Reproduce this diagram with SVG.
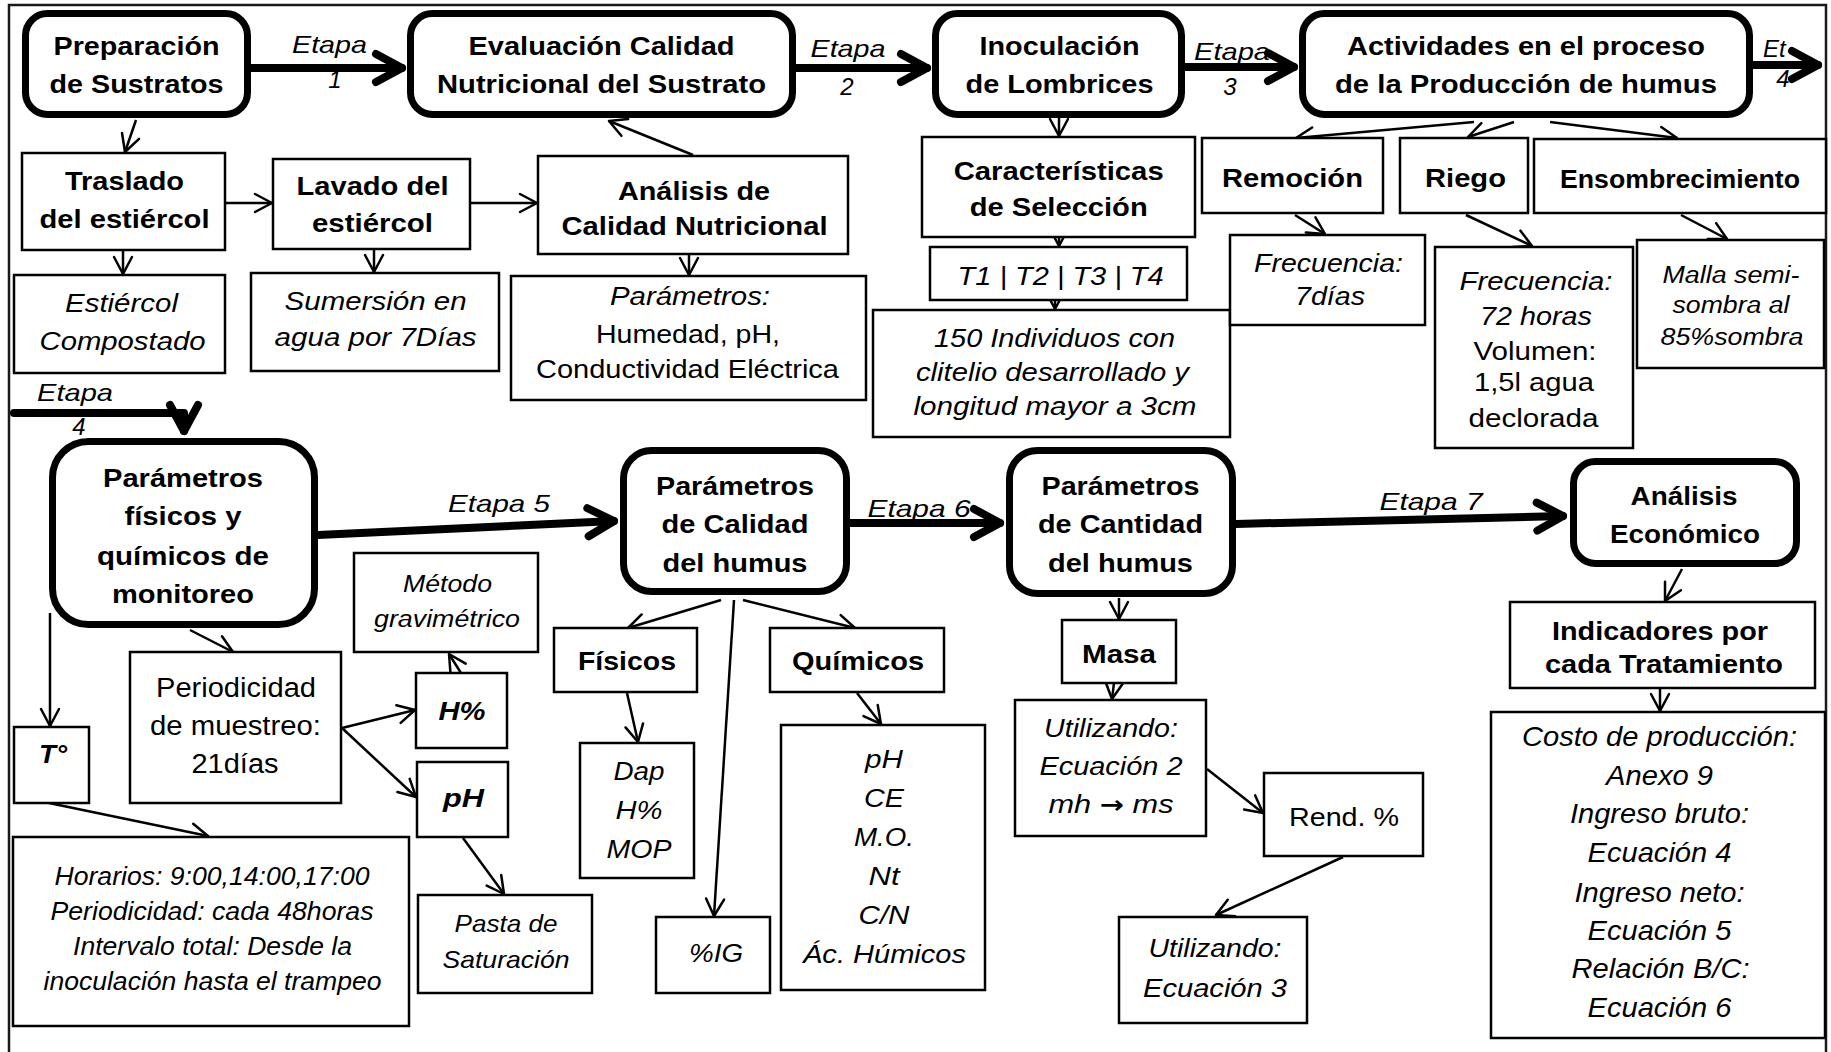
<svg xmlns="http://www.w3.org/2000/svg" width="1831" height="1052" viewBox="0 0 1831 1052">
<style>
text{font-family:"Liberation Sans",Arial,sans-serif;font-size:25.5px;text-anchor:middle;fill:#000}
.b{font-weight:bold}
.i{font-style:italic}
.s23{font-size:23px}
.s24{font-size:24px}
.s21{font-size:23.5px}
.s27{font-size:27px}
.s28{font-size:28px}
.tk{fill:#fff;stroke:#000;stroke-width:7}
.tn{fill:#fff;stroke:#000;stroke-width:2.5}
.cn{fill:none;stroke:#000;stroke-width:2.5;marker-end:url(#ah)}
.ck{fill:none;stroke:#000;stroke-width:8;stroke-linecap:round;stroke-linejoin:round;marker-end:url(#ahk)}
</style>
<defs>
<marker id="ah" markerUnits="userSpaceOnUse" orient="auto" markerWidth="40" markerHeight="40" refX="0" refY="0" style="overflow:visible">
<path d="M-17,-9 L0,0 L-17,9" fill="none" stroke="#000" stroke-width="2.5" stroke-linejoin="round" stroke-linecap="round"/>
</marker>
<marker id="ahk" markerUnits="userSpaceOnUse" orient="auto" markerWidth="60" markerHeight="60" refX="0" refY="0" style="overflow:visible">
<path d="M-26,-14 L0,0 L-26,14" fill="none" stroke="#000" stroke-width="8" stroke-linejoin="round" stroke-linecap="round"/>
</marker>
</defs>
<rect width="1831" height="1052" fill="#fff"/>
<rect id="frame" x="9" y="5" width="1817" height="1075" fill="none" stroke="#1a1a1a" stroke-width="2.5"/>

<g id="connectors">
<path class="ck" d="M251,68 H402"/>
<path class="ck" d="M796,68 H927"/>
<path class="ck" d="M1185,67 H1294"/>
<path class="ck" d="M1753,65 H1818"/>
<path class="ck" d="M14,413 H184 V431"/>
<path class="ck" d="M318,535 L614,521"/>
<path class="ck" d="M850,523 H1000"/>
<path class="ck" d="M1236,524 L1563,516"/>
<path class="cn" d="M136,120 L125,152"/>
<path class="cn" d="M225,203 H272"/>
<path class="cn" d="M470,203 H537"/>
<path class="cn" d="M693,155 L609,121"/>
<path class="cn" d="M123,250 V274"/>
<path class="cn" d="M374,250 V272"/>
<path class="cn" d="M689,255 V275"/>
<path class="cn" d="M1059,118 V136"/>
<path class="cn" d="M1059,237 V246"/>
<path class="cn" d="M1055,300 V309"/>
<path class="cn" d="M1474,122 L1296,138"/>
<path class="cn" d="M1514,122 L1468,137"/>
<path class="cn" d="M1550,122 L1677,138"/>
<path class="cn" d="M1295,215 L1325,234"/>
<path class="cn" d="M1466,215 L1532,246"/>
<path class="cn" d="M1681,215 L1727,239"/>
<path class="cn" d="M50,613 V726"/>
<path class="cn" d="M190,630 L233,652"/>
<path class="cn" d="M342,728 L415,710"/>
<path class="cn" d="M342,728 L416,797"/>
<path class="cn" d="M461,673 L449,654"/>
<path class="cn" d="M49,803 L208,836"/>
<path class="cn" d="M463,838 L504,894"/>
<path class="cn" d="M721,600 L628,628"/>
<path class="cn" d="M743,600 L855,628"/>
<path class="cn" d="M734,600 L714,916"/>
<path class="cn" d="M627,693 L638,742"/>
<path class="cn" d="M857,693 L881,724"/>
<path class="cn" d="M1119,598 V619"/>
<path class="cn" d="M1114,683 L1112,699"/>
<path class="cn" d="M1207,769 L1263,813"/>
<path class="cn" d="M1343,857 L1216,915"/>
<path class="cn" d="M1682,569 L1665,601"/>
<path class="cn" d="M1660,689 V711"/>
</g>

<g id="labels">
<text class="i s24" x="329.5" y="53" textLength="75" lengthAdjust="spacingAndGlyphs">Etapa</text>
<text class="i s24" x="335" y="88">1</text>
<text class="i s24" x="848" y="57" textLength="75" lengthAdjust="spacingAndGlyphs">Etapa</text>
<text class="i s24" x="847" y="95">2</text>
<text class="i s24" x="1232" y="60" textLength="76" lengthAdjust="spacingAndGlyphs">Etapa</text>
<text class="i s24" x="1230" y="95">3</text>
<text class="i s24" x="1763" y="57" style="text-anchor:start">Et</text>
<text class="i s24" x="1783" y="87">4</text>
<text class="i s24" x="75" y="401" textLength="76" lengthAdjust="spacingAndGlyphs">Etapa</text>
<text class="i s24" x="79" y="435">4</text>
<text class="i s24" x="499" y="512" textLength="102" lengthAdjust="spacingAndGlyphs">Etapa 5</text>
<text class="i s24" x="919" y="517" textLength="103" lengthAdjust="spacingAndGlyphs">Etapa 6</text>
<text class="i s24" x="1431" y="510" textLength="103" lengthAdjust="spacingAndGlyphs">Etapa 7</text>
</g>

<g id="n-preparacion">
<rect class="tk" x="25.5" y="13.5" width="222" height="101" rx="22"/>
<text class="b" x="136.5" y="55" textLength="166" lengthAdjust="spacingAndGlyphs">Preparación</text>
<text class="b" x="136.5" y="93" textLength="174" lengthAdjust="spacingAndGlyphs">de Sustratos</text>
</g>
<g id="n-evaluacion">
<rect class="tk" x="410.5" y="13.5" width="382" height="101" rx="22"/>
<text class="b" x="601.5" y="55" textLength="266" lengthAdjust="spacingAndGlyphs">Evaluación Calidad</text>
<text class="b" x="601.5" y="93" textLength="329" lengthAdjust="spacingAndGlyphs">Nutricional del Sustrato</text>
</g>
<g id="n-inoculacion">
<rect class="tk" x="935.5" y="13.5" width="246" height="101" rx="22"/>
<text class="b" x="1059.5" y="55" textLength="160" lengthAdjust="spacingAndGlyphs">Inoculación</text>
<text class="b" x="1059.5" y="93" textLength="188" lengthAdjust="spacingAndGlyphs">de Lombrices</text>
</g>
<g id="n-actividades">
<rect class="tk" x="1302.5" y="13.5" width="447" height="101" rx="22"/>
<text class="b" x="1526" y="55" textLength="358" lengthAdjust="spacingAndGlyphs">Actividades en el proceso</text>
<text class="b" x="1526" y="93" textLength="382" lengthAdjust="spacingAndGlyphs">de la Producción de humus</text>
</g>

<g id="n-traslado">
<rect class="tn" x="22" y="153" width="203" height="97"/>
<text class="b" x="124.5" y="190" textLength="119" lengthAdjust="spacingAndGlyphs">Traslado</text>
<text class="b" x="124.5" y="228" textLength="170" lengthAdjust="spacingAndGlyphs">del estiércol</text>
</g>
<g id="n-lavado">
<rect class="tn" x="273" y="159" width="197" height="90"/>
<text class="b" x="372.5" y="195" textLength="152" lengthAdjust="spacingAndGlyphs">Lavado del</text>
<text class="b" x="372.5" y="232" textLength="121" lengthAdjust="spacingAndGlyphs">estiércol</text>
</g>
<g id="n-analisis-calidad">
<rect class="tn" x="538" y="156" width="310" height="98"/>
<text class="b" x="694" y="200" textLength="152" lengthAdjust="spacingAndGlyphs">Análisis de</text>
<text class="b" x="694.5" y="235" textLength="266" lengthAdjust="spacingAndGlyphs">Calidad Nutricional</text>
</g>
<g id="n-estiercol">
<rect class="tn" x="14" y="275" width="211" height="98"/>
<text class="i" x="121.5" y="312" textLength="113" lengthAdjust="spacingAndGlyphs">Estiércol</text>
<text class="i" x="122.5" y="350" textLength="166" lengthAdjust="spacingAndGlyphs">Compostado</text>
</g>
<g id="n-sumersion">
<rect class="tn" x="251" y="273" width="248" height="98"/>
<text class="i" x="375.6" y="310" textLength="182" lengthAdjust="spacingAndGlyphs">Sumersión en</text>
<text class="i" x="375.6" y="346" textLength="202" lengthAdjust="spacingAndGlyphs">agua por 7Días</text>
</g>
<g id="n-parametros-nutri">
<rect class="tn" x="511" y="276" width="355" height="124"/>
<text class="i" x="690" y="305" textLength="160" lengthAdjust="spacingAndGlyphs">Parámetros:</text>
<text x="688" y="343" textLength="184" lengthAdjust="spacingAndGlyphs">Humedad, pH,</text>
<text x="687.5" y="378" textLength="303" lengthAdjust="spacingAndGlyphs">Conductividad Eléctrica</text>
</g>

<g id="n-caracteristicas">
<rect class="tn" x="922" y="137" width="273" height="100"/>
<text class="b" x="1058.7" y="180" textLength="210" lengthAdjust="spacingAndGlyphs">Características</text>
<text class="b" x="1058.7" y="216" textLength="178" lengthAdjust="spacingAndGlyphs">de Selección</text>
</g>
<g id="n-tratamientos">
<rect class="tn" x="930" y="247" width="257" height="53"/>
<text class="i" x="1060.6" y="285" textLength="206" lengthAdjust="spacingAndGlyphs">T1 | T2 | T3 | T4</text>
</g>
<g id="n-individuos">
<rect class="tn" x="873" y="310" width="357" height="127"/>
<text class="i" x="1054.5" y="347" textLength="241" lengthAdjust="spacingAndGlyphs">150 Individuos con</text>
<text class="i" x="1052.5" y="381" textLength="273" lengthAdjust="spacingAndGlyphs">clitelio desarrollado y</text>
<text class="i" x="1055" y="415" textLength="283" lengthAdjust="spacingAndGlyphs">longitud mayor a 3cm</text>
</g>

<g id="n-remocion">
<rect class="tn" x="1202" y="138" width="181" height="75"/>
<text class="b" x="1292.5" y="187" textLength="141" lengthAdjust="spacingAndGlyphs">Remoción</text>
</g>
<g id="n-riego">
<rect class="tn" x="1400" y="138" width="128" height="75"/>
<text class="b" x="1465.5" y="187" textLength="81" lengthAdjust="spacingAndGlyphs">Riego</text>
</g>
<g id="n-ensombrecimiento">
<rect class="tn" x="1534" y="139" width="292" height="74"/>
<text class="b" x="1680" y="188" textLength="240" lengthAdjust="spacingAndGlyphs">Ensombrecimiento</text>
</g>
<g id="n-frec-remocion">
<rect class="tn" x="1230" y="235" width="195" height="90"/>
<text class="i" x="1328.5" y="272" textLength="149" lengthAdjust="spacingAndGlyphs">Frecuencia:</text>
<text class="i" x="1330" y="305" textLength="70" lengthAdjust="spacingAndGlyphs">7días</text>
</g>
<g id="n-frec-riego">
<rect class="tn" x="1435" y="247" width="198" height="201"/>
<text class="i" x="1536" y="290" textLength="153" lengthAdjust="spacingAndGlyphs">Frecuencia:</text>
<text class="i" x="1536" y="325" textLength="112" lengthAdjust="spacingAndGlyphs">72 horas</text>
<text x="1535" y="360" textLength="123" lengthAdjust="spacingAndGlyphs">Volumen:</text>
<text x="1534" y="391" textLength="120" lengthAdjust="spacingAndGlyphs">1,5l agua</text>
<text x="1533.5" y="427" textLength="130" lengthAdjust="spacingAndGlyphs">declorada</text>
</g>
<g id="n-malla">
<rect class="tn" x="1637" y="240" width="187" height="128"/>
<text class="i s21" x="1731" y="283" textLength="137" lengthAdjust="spacingAndGlyphs">Malla semi-</text>
<text class="i s21" x="1731" y="313" textLength="117" lengthAdjust="spacingAndGlyphs">sombra al</text>
<text class="i s21" x="1732" y="345" textLength="143" lengthAdjust="spacingAndGlyphs">85%sombra</text>
</g>

<g id="n-param-fisquim">
<rect class="tk" x="52.5" y="441.5" width="262" height="183" rx="36"/>
<text class="b" x="183" y="487" textLength="160" lengthAdjust="spacingAndGlyphs">Parámetros</text>
<text class="b" x="183" y="525" textLength="117" lengthAdjust="spacingAndGlyphs">físicos y</text>
<text class="b" x="183" y="565" textLength="172" lengthAdjust="spacingAndGlyphs">químicos de</text>
<text class="b" x="183" y="603" textLength="142" lengthAdjust="spacingAndGlyphs">monitoreo</text>
</g>
<g id="n-metodo">
<rect class="tn" x="354" y="553" width="184" height="99"/>
<text class="i s23" x="447.5" y="592" textLength="89" lengthAdjust="spacingAndGlyphs">Método</text>
<text class="i s23" x="447" y="627" textLength="146" lengthAdjust="spacingAndGlyphs">gravimétrico</text>
</g>
<g id="n-humedad">
<rect class="tn" x="416" y="673" width="91" height="75"/>
<text class="b i" x="462" y="720" textLength="47" lengthAdjust="spacingAndGlyphs">H%</text>
</g>
<g id="n-ph">
<rect class="tn" x="417" y="762" width="91" height="75"/>
<text class="b i" x="463.5" y="807" textLength="41" lengthAdjust="spacingAndGlyphs">pH</text>
</g>
<g id="n-periodicidad">
<rect class="tn" x="130" y="652" width="211" height="151"/>
<text class="s27" x="236" y="697" textLength="160" lengthAdjust="spacingAndGlyphs">Periodicidad</text>
<text class="s27" x="235.5" y="735" textLength="171" lengthAdjust="spacingAndGlyphs">de muestreo:</text>
<text class="s27" x="235" y="773" textLength="87" lengthAdjust="spacingAndGlyphs">21días</text>
</g>
<g id="n-temperatura">
<rect class="tn" x="14" y="727" width="75" height="76"/>
<text class="b i" x="53" y="763" textLength="28" lengthAdjust="spacingAndGlyphs">T°</text>
</g>
<g id="n-horarios">
<rect class="tn" x="13" y="837" width="396" height="189"/>
<text class="i" x="212" y="885" textLength="315" lengthAdjust="spacingAndGlyphs">Horarios: 9:00,14:00,17:00</text>
<text class="i" x="212" y="920" textLength="323" lengthAdjust="spacingAndGlyphs">Periodicidad: cada 48horas</text>
<text class="i" x="212.5" y="955" textLength="279" lengthAdjust="spacingAndGlyphs">Intervalo total: Desde la</text>
<text class="i" x="212.5" y="990" textLength="338" lengthAdjust="spacingAndGlyphs">inoculación hasta el trampeo</text>
</g>
<g id="n-pasta">
<rect class="tn" x="418" y="895" width="174" height="98"/>
<text class="i s24" x="506" y="932" textLength="103" lengthAdjust="spacingAndGlyphs">Pasta de</text>
<text class="i s24" x="506" y="968" textLength="127" lengthAdjust="spacingAndGlyphs">Saturación</text>
</g>

<g id="n-calidad-humus">
<rect class="tk" x="623.5" y="450.5" width="223" height="141" rx="28"/>
<text class="b" x="735" y="495" textLength="158" lengthAdjust="spacingAndGlyphs">Parámetros</text>
<text class="b" x="735" y="533" textLength="147" lengthAdjust="spacingAndGlyphs">de Calidad</text>
<text class="b" x="735" y="572" textLength="145" lengthAdjust="spacingAndGlyphs">del humus</text>
</g>
<g id="n-fisicos">
<rect class="tn" x="554" y="628" width="143" height="64"/>
<text class="b" x="627" y="670" textLength="98" lengthAdjust="spacingAndGlyphs">Físicos</text>
</g>
<g id="n-quimicos">
<rect class="tn" x="770" y="628" width="174" height="64"/>
<text class="b" x="858" y="670" textLength="132" lengthAdjust="spacingAndGlyphs">Químicos</text>
</g>
<g id="n-fisicos-lista">
<rect class="tn" x="580" y="743" width="114" height="135"/>
<text class="i" x="639" y="780" textLength="51" lengthAdjust="spacingAndGlyphs">Dap</text>
<text class="i" x="639" y="819" textLength="47" lengthAdjust="spacingAndGlyphs">H%</text>
<text class="i" x="639" y="858" textLength="65" lengthAdjust="spacingAndGlyphs">MOP</text>
</g>
<g id="n-ig">
<rect class="tn" x="656" y="917" width="114" height="76"/>
<text class="i" x="716" y="962" textLength="54" lengthAdjust="spacingAndGlyphs">%IG</text>
</g>
<g id="n-quimicos-lista">
<rect class="tn" x="781" y="725" width="204" height="265"/>
<text class="i" x="884" y="768" textLength="38" lengthAdjust="spacingAndGlyphs">pH</text>
<text class="i" x="884" y="807" textLength="40" lengthAdjust="spacingAndGlyphs">CE</text>
<text class="i" x="884" y="846" textLength="60" lengthAdjust="spacingAndGlyphs">M.O.</text>
<text class="i" x="884" y="885" textLength="31" lengthAdjust="spacingAndGlyphs">Nt</text>
<text class="i" x="884" y="924" textLength="51" lengthAdjust="spacingAndGlyphs">C/N</text>
<text class="i" x="884.5" y="963" textLength="163" lengthAdjust="spacingAndGlyphs">Ác. Húmicos</text>
</g>

<g id="n-cantidad-humus">
<rect class="tk" x="1009.5" y="450.5" width="223" height="143" rx="28"/>
<text class="b" x="1120.5" y="495" textLength="158" lengthAdjust="spacingAndGlyphs">Parámetros</text>
<text class="b" x="1120.5" y="533" textLength="165" lengthAdjust="spacingAndGlyphs">de Cantidad</text>
<text class="b" x="1120.5" y="572" textLength="145" lengthAdjust="spacingAndGlyphs">del humus</text>
</g>
<g id="n-masa">
<rect class="tn" x="1062" y="620" width="114" height="63"/>
<text class="b" x="1119" y="663" textLength="74" lengthAdjust="spacingAndGlyphs">Masa</text>
</g>
<g id="n-ecuacion2">
<rect class="tn" x="1015" y="700" width="191" height="136"/>
<text class="i" x="1111" y="737" textLength="134" lengthAdjust="spacingAndGlyphs">Utilizando:</text>
<text class="i" x="1111" y="775" textLength="143" lengthAdjust="spacingAndGlyphs">Ecuación 2</text>
<text class="i" x="1111" y="813" textLength="125" lengthAdjust="spacingAndGlyphs">mh <tspan style="font-family:'DejaVu Sans',sans-serif;font-weight:bold;font-style:normal;font-size:24px">→</tspan> ms</text>
</g>
<g id="n-rendimiento">
<rect class="tn" x="1264" y="773" width="159" height="83"/>
<text x="1344" y="826" textLength="110" lengthAdjust="spacingAndGlyphs">Rend. %</text>
</g>
<g id="n-ecuacion3">
<rect class="tn" x="1119" y="917" width="188" height="106"/>
<text class="i" x="1215" y="957" textLength="133" lengthAdjust="spacingAndGlyphs">Utilizando:</text>
<text class="i" x="1215" y="997" textLength="144" lengthAdjust="spacingAndGlyphs">Ecuación 3</text>
</g>

<g id="n-analisis-economico">
<rect class="tk" x="1573.5" y="461.5" width="223" height="102" rx="22"/>
<text class="b" x="1684" y="505" textLength="107" lengthAdjust="spacingAndGlyphs">Análisis</text>
<text class="b" x="1685" y="543" textLength="150" lengthAdjust="spacingAndGlyphs">Económico</text>
</g>
<g id="n-indicadores">
<rect class="tn" x="1510" y="602" width="305" height="86"/>
<text class="b" x="1660" y="640" textLength="216" lengthAdjust="spacingAndGlyphs">Indicadores por</text>
<text class="b" x="1664" y="673" textLength="238" lengthAdjust="spacingAndGlyphs">cada Tratamiento</text>
</g>
<g id="n-costos">
<rect class="tn" x="1491" y="712" width="334" height="326"/>
<text class="i s28" x="1659.5" y="746" textLength="275" lengthAdjust="spacingAndGlyphs">Costo de producción:</text>
<text class="i s28" x="1659.5" y="785" textLength="107" lengthAdjust="spacingAndGlyphs">Anexo 9</text>
<text class="i s28" x="1659.5" y="823" textLength="179" lengthAdjust="spacingAndGlyphs">Ingreso bruto:</text>
<text class="i s28" x="1659.5" y="862" textLength="144" lengthAdjust="spacingAndGlyphs">Ecuación 4</text>
<text class="i s28" x="1659.5" y="902" textLength="170" lengthAdjust="spacingAndGlyphs">Ingreso neto:</text>
<text class="i s28" x="1659.5" y="940" textLength="144" lengthAdjust="spacingAndGlyphs">Ecuación 5</text>
<text class="i s28" x="1660.5" y="978" textLength="178" lengthAdjust="spacingAndGlyphs">Relación B/C:</text>
<text class="i s28" x="1659.5" y="1017" textLength="144" lengthAdjust="spacingAndGlyphs">Ecuación 6</text>
</g>
</svg>
